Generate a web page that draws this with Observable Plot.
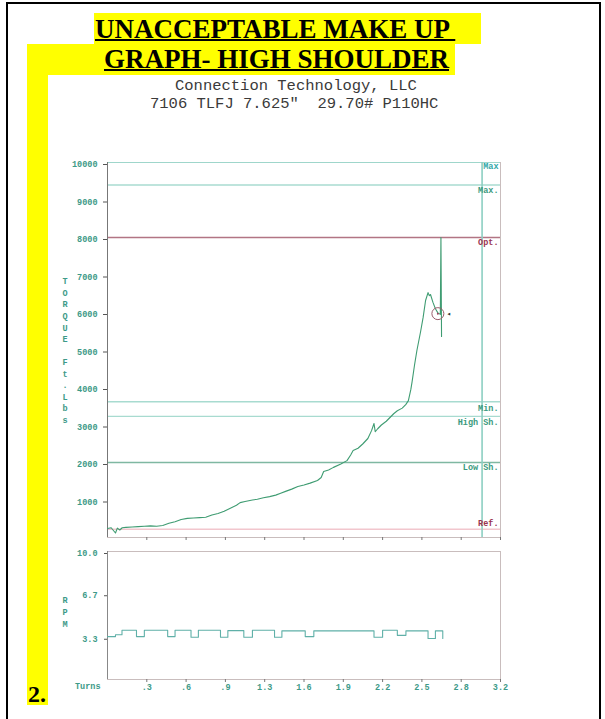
<!DOCTYPE html>
<html>
<head>
<meta charset="utf-8">
<script src="https://cdn.jsdelivr.net/npm/d3@7"></script>
<script src="https://cdn.jsdelivr.net/npm/@observablehq/plot@0.6"></script>
<style>
  html, body { margin: 0; padding: 0; background: #fff; }
  #page { position: relative; width: 605px; height: 719px; overflow: hidden; }
  .abs { position: absolute; }
  .frame { left: 6px; top: 2px; width: 595px; height: 760px; border: 2px solid #000; box-sizing: border-box; }
  .yel { background: #ffff00; }
  .title { font-family: "Liberation Serif", "Times New Roman", serif; font-weight: bold; font-size: 27px; text-decoration: underline; text-decoration-thickness: 2px; color: #000; white-space: pre; line-height: 1; }
  .sub { font-family: "Liberation Mono", "DejaVu Sans Mono", monospace; font-size: 15.5px; color: #3a3a3a; white-space: pre; line-height: 1; }
</style>
</head>
<body>
<div id="page">
  <div class="abs frame"></div>
  <div class="abs yel" style="left:94px; top:13px; width:387px; height:31px;"></div>
  <div class="abs yel" style="left:27px; top:44px; width:428px; height:31px;"></div>
  <div class="abs yel" style="left:27px; top:44px; width:21px; height:661px;"></div>
  <div class="abs title" style="left:95px; top:16px;">UNACCEPTABLE MAKE UP </div>
  <div class="abs title" style="left:104px; top:46px;">GRAPH- HIGH SHOULDER</div>
  <div class="abs sub" style="left:175px; top:79px;">Connection Technology, LLC</div>
  <div class="abs sub" style="left:150px; top:97px;">7106 TLFJ 7.625"  29.70# P110HC</div>
  <div class="abs" style="left:28px; top:682px; font-family:'Liberation Serif',serif; font-weight:bold; font-size:24px; line-height:1;">2.</div>
  <div class="abs" id="main" style="left:0; top:150px;"></div>
  <div class="abs" id="rpm" style="left:0; top:540px;"></div>
</div>
<script>
// ---- Data ----
const torqueTurns = [0.00,0.03,0.05,0.065,0.08,0.10,0.12,0.15,0.20,0.25,0.30,0.35,0.40,0.45,0.50,0.55,0.60,0.65,0.70,0.75,0.80,0.85,0.90,0.95,1.00,1.05,1.08,1.12,1.18,1.22,1.27,1.32,1.37,1.41,1.45,1.50,1.55,1.60,1.65,1.71,1.74,1.76,1.80,1.84,1.90,1.95,1.98,2.00,2.04,2.08,2.12,2.15,2.17,2.18,2.20,2.23,2.27,2.30,2.33,2.36,2.40,2.43,2.45,2.47,2.48,2.50,2.52,2.55,2.57,2.59,2.61,2.62,2.63,2.65,2.67,2.69,2.71,2.715,2.72];
const torqueValues = [240,260,180,120,250,200,260,270,280,290,300,310,300,320,380,420,480,510,520,530,540,600,640,700,780,860,930,960,1000,1020,1060,1090,1130,1180,1230,1290,1360,1400,1450,1520,1600,1760,1800,1870,1960,2050,2200,2320,2380,2500,2640,2850,3040,2820,2900,3000,3100,3200,3300,3380,3450,3550,3650,3950,4150,4600,5000,5500,5870,6320,6530,6450,6480,6270,6100,5990,5950,8000,5360];

const rpmTurns  = [0,0.065,0.118,0.236,0.30,0.49,0.55,0.68,0.74,0.92,0.98,1.11,1.18,1.36,1.42,1.61,1.68,2.17,2.24,2.36,2.43,2.61,2.67,2.73];
const rpmValues = [3.35,3.5,3.85,3.35,3.85,3.35,3.85,3.3,3.85,3.3,3.82,3.3,3.85,3.3,3.8,3.35,3.8,3.3,3.85,3.45,3.8,3.2,3.8,3.2];

const refNames  = ["Max","Max.","Opt.","Min.","High Sh.","Low Sh.","Ref."];
const refValues = [10000,9400,8000,3620,3230,2000,220];
const finalTurns = [3.05];

const markerTurns = [2.69];
const markerTorque = [5970];

const xTickValues = [0.32,0.64,0.96,1.28,1.6,1.92,2.24,2.56,2.88,3.2];
const xTickLabels = [".3",".6",".9","1.3","1.6","1.9","2.2","2.5","2.8","3.2"];
const torqueTicks = [1000,2000,3000,4000,5000,6000,7000,8000,9000,10000];
const rpmTicks = [3.3,6.7,10];

// ---- Styling ----
const teal = "#3d9a88";
const refLineColors  = ["#9fd6cb","#a8dbd0","#b27584","#a8dbd0","#a8dbd0","#7fb8a2","#f2c6cd"];
const refLabelColors = ["#2fa7a7","#3a9a7e","#9a3450","#3a9a7e","#3a9a7e","#3a9a7e","#9a3450"];
const refLabelDy     = [4,5,5,7,6,5,-6];
const refWidths      = [1,1.3,1.5,1.3,1.3,1.6,1.3];

const torque = torqueTurns.map((t,i)=>({t, v: torqueValues[i]}));
const rpm = rpmTurns.map((t,i)=>({t, v: rpmValues[i]}));
const refs = refNames.map((n,i)=>({n, v: refValues[i], lc: refLineColors[i], tc: refLabelColors[i], dy: refLabelDy[i], w: refWidths[i]}));
const markers = markerTurns.map((t,i)=>({t, v: markerTorque[i]}));
const fmtX = d => xTickLabels[xTickValues.indexOf(d)] ?? "";

const baseStyle = {fontFamily: "'Liberation Mono', 'DejaVu Sans Mono', monospace", fontSize: "8.5px", fontWeight: "bold", background: "transparent", overflow: "visible"};

const main = Plot.plot({
  width: 605, height: 395,
  marginLeft: 107, marginRight: 105, marginTop: 12, marginBottom: 8,
  style: baseStyle,
  x: {domain: [0, 3.2]},
  y: {domain: [0, 10000]},
  marks: [
    Plot.frame({stroke: "#c9bdbd"}),
    ...refs.map(r => Plot.ruleY([r.v], {stroke: r.lc, strokeWidth: r.w})),
    Plot.ruleX(finalTurns, {stroke: "#8ccfc2", strokeWidth: 1.6}),
    Plot.ruleX([0], {stroke: "#777"}),
    Plot.axisY({ticks: torqueTicks, tickSize: 4, tickPadding: 6, tickFormat: d => String(d), dy: 2, stroke: "#555", fill: teal, label: null}),
    Plot.axisX({ticks: xTickValues, tickSize: 3, tickFormat: () => "", stroke: "#777", label: null}),
    ...refs.map(r => Plot.text([r], {x: () => 3.2, y: "v", text: "n", textAnchor: "end", dx: -2, dy: r.dy, fill: r.tc, fontSize: 8.5})),
    Plot.line(torque, {x: "t", y: "v", stroke: "#3f9c72", strokeWidth: 1.1}),
    Plot.dot(markers, {x: "t", y: "v", r: 6, stroke: "#9a5a6a", fill: "none", strokeWidth: 1}),
    Plot.dot(markers, {x: "t", y: "v", r: 1, fill: "#a04060", stroke: "none"}),
    Plot.text(markers, {x: "t", y: "v", text: () => "◂", dx: 11, dy: 0, fontSize: 7, fill: "#333"}),
    Plot.text([0], {frameAnchor: "left", text: () => "T\nO\nR\nQ\nU\nE\n \nF\nt\n.\nL\nb\ns", dx: -45, lineHeight: 1.36, fill: teal, fontSize: 8.5})
  ]
});
document.getElementById("main").appendChild(main);

const rpmPlot = Plot.plot({
  width: 605, height: 160,
  marginLeft: 107, marginRight: 105, marginTop: 11, marginBottom: 21,
  style: baseStyle,
  x: {domain: [0, 3.2]},
  y: {domain: [0, 10]},
  marks: [
    Plot.frame({stroke: "#c9bdbd"}),
    Plot.ruleX([0], {stroke: "#888"}),
    Plot.axisY({ticks: rpmTicks, tickSize: 3, tickPadding: 7, tickFormat: d => d.toFixed(1), dy: 2, stroke: "#555", fill: teal, label: null}),
    Plot.axisX({ticks: xTickValues, tickSize: 3, tickPadding: 1, tickFormat: fmtX, stroke: "#777", fill: teal, label: null}),
    Plot.text([0], {frameAnchor: "bottom-left", text: () => "Turns", dx: -7, dy: 9, textAnchor: "end", fill: teal, fontSize: 8.5}),
    Plot.text([0], {frameAnchor: "left", text: () => "R\nP\nM", dx: -45, dy: -4, lineHeight: 1.4, fill: teal, fontSize: 8.5}),
    Plot.line(rpm, {x: "t", y: "v", curve: "step-after", stroke: "#5fb0a8", strokeWidth: 1.1})
  ]
});
document.getElementById("rpm").appendChild(rpmPlot);
</script>
</body>
</html>
